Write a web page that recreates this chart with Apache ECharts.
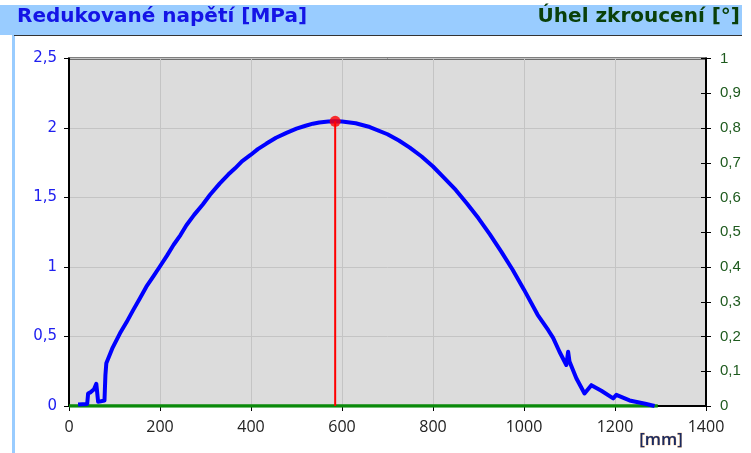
<!DOCTYPE html>
<html>
<head>
<meta charset="utf-8">
<script src="https://cdn.jsdelivr.net/npm/echarts@6/dist/echarts.min.js"></script>
<style>
  html, body { margin: 0; padding: 0; background: #fff; }
  #chart { width: 751px; height: 453px; }
</style>
</head>
<body>
<div id="chart"></div>
<script>
// napeti po delce hridele [mm] -> [MPa]
var stressX = [20, 40, 42, 48, 55, 60, 62, 64, 78, 80, 82, 96, 112, 126, 141, 155, 170, 185, 199, 215, 230, 245, 258, 275, 294, 310, 331, 350,
    365, 380, 399, 415, 434, 455, 478, 500, 520, 536, 550, 570, 585,
    600, 630, 661, 700, 725, 749, 775, 800, 825, 850, 875, 900, 925, 950, 975, 1000, 1030, 1053, 1064, 1078, 1093, 1097, 1100, 1104,
    1115, 1133, 1148, 1170, 1196, 1203, 1232, 1269, 1287];
var stressY = [0.01, 0.015, 0.09, 0.1, 0.12, 0.16, 0.16, 0.03, 0.04, 0.22, 0.307, 0.42, 0.523, 0.6, 0.69, 0.77, 0.858, 0.93, 1.0, 1.08, 1.16, 1.23, 1.30, 1.375, 1.45, 1.52, 1.60, 1.665,
    1.71, 1.76, 1.806, 1.848, 1.888, 1.93, 1.965, 1.995, 2.016, 2.031, 2.04, 2.046, 2.048,
    2.046, 2.034, 2.007, 1.955, 1.91, 1.859, 1.795, 1.723, 1.64, 1.554, 1.455, 1.35, 1.235, 1.111, 0.98, 0.837, 0.656, 0.547, 0.49, 0.39, 0.295, 0.39, 0.32, 0.33,
    0.2, 0.09, 0.15, 0.11, 0.055, 0.08, 0.04, 0.014, 0.0];
// uhel zkrouceni [°]
var angleX = [0, 1294];
var angleY = [0, 0];
// maximum
var peakX = 585;
var peakY = 2.048;

function zip(xs, ys) {
    return xs.map(function (x, i) { return [x, ys[i]]; });
}

function comma(v) {
    return String(Math.round(v * 10) / 10).replace('.', ',');
}

var chart = echarts.init(document.getElementById('chart'));
chart.setOption({
    animation: false,
    backgroundColor: '#fff',
    graphic: [
        { type: 'rect', shape: { x: 0, y: 5, width: 742, height: 30 }, style: { fill: '#99CCFF' }, z: -1 },
        { type: 'rect', shape: { x: 12, y: 35, width: 3, height: 418 }, style: { fill: '#99CCFF' }, z: -1 },
        { type: 'rect', shape: { x: 14, y: 35, width: 728, height: 1 }, style: { fill: '#333' }, z: -1 },
        {
            type: 'text', left: 17, top: 7,
            style: { text: 'Redukované napětí [MPa]', fill: '#1414E6', font: 'bold 20px "DejaVu Sans"' }
        },
        {
            type: 'text', right: 11, top: 7,
            style: { text: 'Úhel zkroucení [°]', fill: '#0A400A', font: 'bold 20px "DejaVu Sans"' }
        },
        {
            type: 'text', left: 639, top: 431,
            style: { text: '[mm]', fill: '#1A2A60', font: '600 17px "Open Sans"', stroke: '#F0B070', lineWidth: 0.5 }
        }
    ],
    grid: {
        left: 69, right: 45, top: 58.5, bottom: 47,
        show: true, backgroundColor: '#DCDCDC', borderColor: '#000', borderWidth: 2
    },
    xAxis: {
        type: 'value', min: 0, max: 1400, interval: 200,
        axisLine: { show: true, onZero: false, lineStyle: { color: '#000', width: 2 } },
        axisTick: { show: true, length: 5, lineStyle: { color: '#000' } },
        axisLabel: { color: '#222', fontSize: 16, fontFamily: '"Open Sans"', margin: 13, formatter: function (v) { return String(v); } },
        splitLine: { show: true, lineStyle: { color: '#C4C4C4', width: 1 } }
    },
    yAxis: [
        {
            type: 'value', min: 0, max: 2.5, interval: 0.5, position: 'left',
            axisLine: { show: true, lineStyle: { color: '#000', width: 2 } },
            axisTick: { show: true, length: 5, lineStyle: { color: '#000' } },
            axisLabel: { color: '#2020F0', fontSize: 15, fontFamily: '"DejaVu Sans"', margin: 12, formatter: comma },
            splitLine: { show: true, lineStyle: { color: '#C4C4C4', width: 1 } }
        },
        {
            type: 'value', min: 0, max: 1, interval: 0.1, position: 'right',
            axisLine: { show: true, lineStyle: { color: '#000', width: 2 } },
            axisTick: { show: true, length: 5, lineStyle: { color: '#000' } },
            axisLabel: { color: '#1E5A1E', fontSize: 15, fontFamily: '"Liberation Sans"', margin: 14, formatter: comma },
            splitLine: { show: false }
        },
        {
            type: 'value', min: 0, max: 1, interval: 0.1, position: 'right',
            axisLine: { show: false },
            axisTick: { show: true, inside: true, length: 5, lineStyle: { color: '#000' } },
            axisLabel: { show: false },
            splitLine: { show: false }
        }
    ],
    series: [
        {
            name: 'uhel', type: 'line', yAxisIndex: 1, data: zip(angleX, angleY),
            showSymbol: false, lineStyle: { color: '#0A8A0A', width: 3.5 }, z: 3
        },
        {
            name: 'napeti', type: 'line', yAxisIndex: 0, data: zip(stressX, stressY),
            showSymbol: false, lineStyle: { color: '#0000FF', width: 4, join: 'round' }, z: 4
        },
        {
            name: 'max', type: 'line', yAxisIndex: 0, data: [[peakX, 0], [peakX, peakY]],
            showSymbol: false, lineStyle: { color: '#FF0000', width: 2 }, z: 5
        },
        {
            name: 'bod', type: 'scatter', yAxisIndex: 0, data: [[peakX, peakY]],
            symbolSize: 11, itemStyle: { color: '#FF0000' }, z: 6
        }
    ]
});
</script>
</body>
</html>
